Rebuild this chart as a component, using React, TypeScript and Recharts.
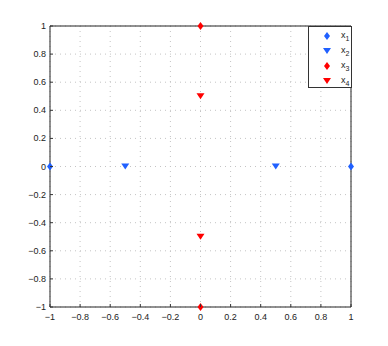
import { CartesianGrid, Scatter, ScatterChart, XAxis, YAxis } from "recharts";

const axisTicks = [-1, -0.8, -0.6, -0.4, -0.2, 0, 0.2, 0.4, 0.6, 0.8, 1];

// each series: x values and y values
const x1X = [-1, 1];
const x1Y = [0, 0];
const x2X = [-0.5, 0.5];
const x2Y = [0, 0];
const x3X = [0, 0];
const x3Y = [1, -1];
const x4X = [0, 0];
const x4Y = [0.5, -0.5];

const BLUE = "#2060ff";
const RED = "#ff0000";
const FONT = "'Liberation Sans', Arial, sans-serif";

type Marker = "diamond" | "triangle";

const series: { name: string; sub: string; xs: number[]; ys: number[]; color: string; marker: Marker }[] = [
  { name: "x1", sub: "1", xs: x1X, ys: x1Y, color: BLUE, marker: "diamond" },
  { name: "x2", sub: "2", xs: x2X, ys: x2Y, color: BLUE, marker: "triangle" },
  { name: "x3", sub: "3", xs: x3X, ys: x3Y, color: RED, marker: "diamond" },
  { name: "x4", sub: "4", xs: x4X, ys: x4Y, color: RED, marker: "triangle" },
];

function markerPath(marker: Marker, cx: number, cy: number) {
  if (marker === "diamond") {
    return `M${cx},${cy - 4} L${cx + 3},${cy} L${cx},${cy + 4} L${cx - 3},${cy} Z`;
  }
  return `M${cx - 4},${cy - 3} L${cx + 4},${cy - 3} L${cx},${cy + 3} Z`;
}

const fmt = (v: number) => {
  const n = Number(v.toFixed(1));
  return n < 0 ? `\u2212${Math.abs(n)}` : `${n}`;
};

function BottomTick(props: any) {
  const { x, y, payload } = props;
  return (
    <g>
      <line x1={x} x2={x} y1={y} y2={y - 3} stroke="#333" />
      <text x={x} y={y + 13} textAnchor="middle" fontSize={9} fill="#222" fontFamily={FONT}>
        {fmt(payload.value)}
      </text>
    </g>
  );
}

function LeftTick(props: any) {
  const { x, y, payload } = props;
  return (
    <g>
      <line x1={x} x2={x + 3} y1={y} y2={y} stroke="#333" />
      <text x={x - 4} y={y + 3} textAnchor="end" fontSize={9} fill="#222" fontFamily={FONT}>
        {fmt(payload.value)}
      </text>
    </g>
  );
}

function TopTick(props: any) {
  const { x, y } = props;
  return <line x1={x} x2={x} y1={y} y2={y + 3} stroke="#333" />;
}

function RightTick(props: any) {
  const { x, y } = props;
  return <line x1={x} x2={x - 3} y1={y} y2={y} stroke="#333" />;
}

function LegendBox() {
  return (
    <div
      style={{
        position: "absolute",
        left: 308,
        top: 26,
        width: 44,
        height: 62,
        border: "1px solid #333",
        background: "#fff",
        boxSizing: "border-box",
        fontFamily: FONT,
        fontSize: 9,
        paddingTop: 1,
      }}
    >
      {series.map((s) => (
        <div key={s.name} style={{ height: 15, display: "flex", alignItems: "center" }}>
          <svg width={32} height={12} style={{ display: "block" }}>
            <path d={markerPath(s.marker, 18, 6)} fill={s.color} />
          </svg>
          <span style={{ color: "#222" }}>
            x<sub style={{ fontSize: 7 }}>{s.sub}</sub>
          </span>
        </div>
      ))}
    </div>
  );
}

export default function App() {
  return (
    <div style={{ position: "absolute", left: 0, top: 0, width: 388, height: 346, background: "#fff" }}>
      <ScatterChart width={388} height={346} margin={{ top: 25, right: 36, bottom: 0, left: 0 }}>
        <CartesianGrid xAxisId="bottom" yAxisId="left" stroke="#c4c4c4" strokeDasharray="1 4" />
        <XAxis
          xAxisId="bottom"
          type="number"
          dataKey="x"
          domain={[-1, 1]}
          ticks={axisTicks}
          height={39}
          tickSize={0}
          tickMargin={0}
          tickLine={false}
          axisLine={{ stroke: "#222" }}
          tick={<BottomTick />}
          interval={0}
        />
        <XAxis
          xAxisId="top"
          orientation="top"
          type="number"
          dataKey="x"
          domain={[-1, 1]}
          ticks={axisTicks}
          height={1}
          tickSize={0}
          tickMargin={0}
          tickLine={false}
          axisLine={{ stroke: "#222" }}
          tick={<TopTick />}
          interval={0}
        />
        <YAxis
          yAxisId="left"
          type="number"
          dataKey="y"
          domain={[-1, 1]}
          ticks={axisTicks}
          width={50}
          tickSize={0}
          tickMargin={0}
          tickLine={false}
          axisLine={{ stroke: "#222" }}
          tick={<LeftTick />}
          interval={0}
        />
        <YAxis
          yAxisId="right"
          orientation="right"
          type="number"
          dataKey="y"
          domain={[-1, 1]}
          ticks={axisTicks}
          width={1}
          tickSize={0}
          tickMargin={0}
          tickLine={false}
          axisLine={{ stroke: "#222" }}
          tick={<RightTick />}
          interval={0}
        />
        {series.map((s) => (
          <Scatter
            key={s.name}
            name={s.name}
            xAxisId="bottom"
            yAxisId="left"
            data={s.xs.map((x, i) => ({ x, y: s.ys[i] }))}
            fill={s.color}
            isAnimationActive={false}
            shape={(p: any) => <path d={markerPath(s.marker, p.cx, p.cy)} fill={s.color} />}
          />
        ))}
      </ScatterChart>
      <LegendBox />
    </div>
  );
}
